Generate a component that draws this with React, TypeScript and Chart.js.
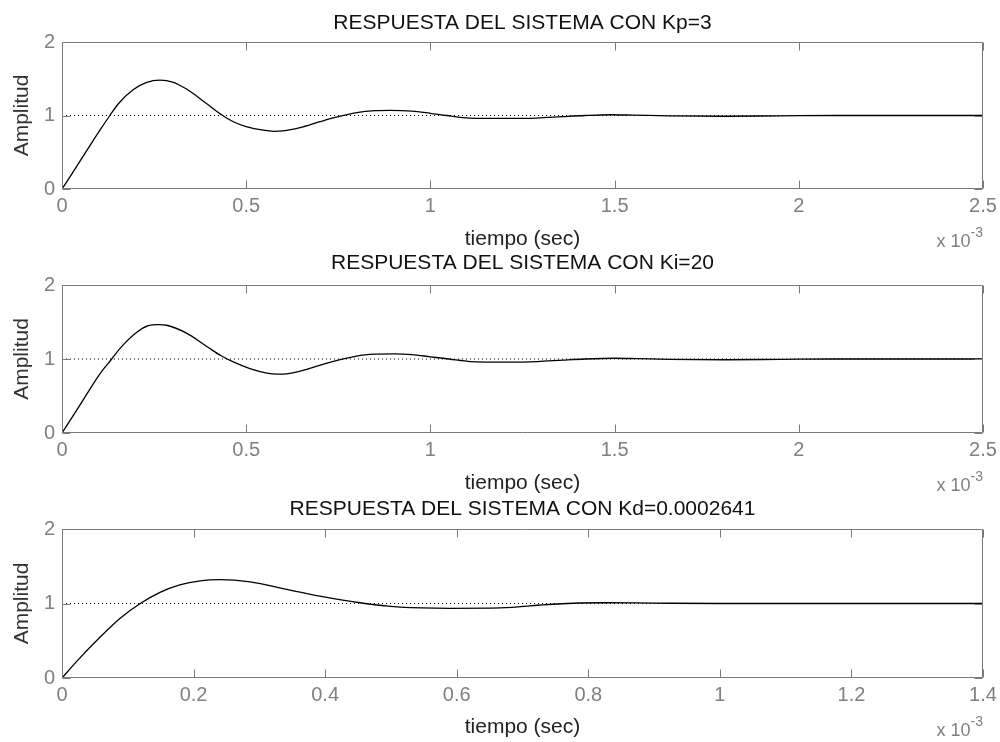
import React, { useEffect, useRef } from "react";
import { Chart, registerables } from "chart.js";

Chart.register(...registerables);

// ---------- data (time in units of 1e-3 s) ----------
const tKp = [0, 0.026, 0.058, 0.103, 0.13, 0.153, 0.193, 0.23, 0.266, 0.3, 0.338, 0.393, 0.433, 0.465, 0.5, 0.546, 0.575, 0.6, 0.646, 0.7, 0.755, 0.8, 0.85, 0.89, 0.95, 1.0, 1.044, 1.107, 1.2, 1.288, 1.36, 1.42, 1.49, 1.55, 1.65, 1.8, 1.95, 2.1, 2.3, 2.5];
const yKp = [0, 0.2, 0.45, 0.8, 1.0, 1.16, 1.35, 1.45, 1.48, 1.455, 1.36, 1.16, 1.01, 0.915, 0.85, 0.8, 0.785, 0.79, 0.835, 0.915, 0.99, 1.04, 1.066, 1.07, 1.06, 1.03, 1.0, 0.965, 0.96, 0.965, 0.985, 1.0, 1.01, 1.005, 0.995, 0.99, 0.995, 1.0, 1.0, 1.0];

const tKi = [0, 0.049, 0.103, 0.135, 0.157, 0.203, 0.234, 0.26, 0.284, 0.338, 0.393, 0.433, 0.465, 0.51, 0.556, 0.583, 0.61, 0.664, 0.71, 0.755, 0.8, 0.85, 0.9, 0.95, 1.0, 1.05, 1.11, 1.2, 1.29, 1.36, 1.42, 1.5, 1.56, 1.65, 1.8, 1.95, 2.1, 2.3, 2.5];
const yKi = [0, 0.38, 0.8, 1.0, 1.14, 1.36, 1.45, 1.465, 1.456, 1.35, 1.17, 1.04, 0.96, 0.87, 0.81, 0.795, 0.8, 0.86, 0.93, 0.99, 1.04, 1.065, 1.07, 1.06, 1.03, 1.0, 0.965, 0.958, 0.965, 0.985, 1.0, 1.01, 1.005, 0.995, 0.99, 0.995, 1.0, 1.0, 1.0];

const tKd = [0, 0.022, 0.058, 0.088, 0.119, 0.149, 0.179, 0.21, 0.24, 0.286, 0.336, 0.392, 0.453, 0.49, 0.514, 0.59, 0.666, 0.746, 0.822, 0.9, 1.0, 1.1, 1.2, 1.3, 1.4];
const yKd = [0, 0.22, 0.55, 0.8, 1.0, 1.15, 1.25, 1.305, 1.32, 1.29, 1.2, 1.1, 1.01, 0.97, 0.95, 0.935, 0.94, 0.99, 1.01, 1.005, 1.0, 1.0, 1.0, 1.0, 1.0];

const titles = [
  "RESPUESTA DEL SISTEMA CON Kp=3",
  "RESPUESTA DEL SISTEMA CON Ki=20",
  "RESPUESTA DEL SISTEMA CON Kd=0.0002641",
];
const xMaxes = [2.5, 2.5, 1.4];
const xSteps = [0.5, 0.5, 0.2];
const yMin = 0;
const yMax = 2;
const yStep = 1;
const referenceLevel = 1;
const xLabel = "tiempo (sec)";
const yLabel = "Amplitud";
const expBase = "x 10";
const expPow = "-3";

const series = [
  { t: tKp, y: yKp },
  { t: tKi, y: yKi },
  { t: tKd, y: yKd },
];

// ---------- layout / style ----------
const FONT = "'Liberation Sans', Arial, sans-serif";
const TICK_COLOR = "#808080";
const FRAME_COLOR = "#7a7a7a";
const TITLE_F = 21;
const TICK_F = 20;
const LABEL_F = 21;

const panels = [
  { ct: 0, ch: 250, titleY: 23, top: 42, bottom: 189, xTitleY: 239 },
  { ct: 250, ch: 245, titleY: 263.5, top: 285, bottom: 433, xTitleY: 483 },
  { ct: 495, ch: 247, titleY: 509.5, top: 529, bottom: 678, xTitleY: 727 },
];
const LEFT = 62;
const RIGHT_PAD = 17;

const framePlugin = {
  id: "matFrame",
  afterDatasetsDraw(chart: any) {
    const { ctx, chartArea: a, scales } = chart;
    ctx.save();
    ctx.strokeStyle = FRAME_COLOR;
    ctx.lineWidth = 1;
    const L = Math.round(a.left) + 0.5;
    const R = Math.round(a.right) - 0.5;
    const T = Math.round(a.top) + 0.5;
    const B = Math.round(a.bottom) - 0.5;
    ctx.beginPath();
    ctx.rect(L, T, R - L, B - T);
    const TL = 8;
    scales.x.ticks.forEach((tk: any) => {
      const px = Math.round(scales.x.getPixelForValue(tk.value)) + 0.5;
      ctx.moveTo(px, B);
      ctx.lineTo(px, B - TL);
      ctx.moveTo(px, T);
      ctx.lineTo(px, T + TL);
    });
    scales.y.ticks.forEach((tk: any) => {
      const py = Math.round(scales.y.getPixelForValue(tk.value)) + 0.5;
      ctx.moveTo(L, py);
      ctx.lineTo(L + TL, py);
      ctx.moveTo(R, py);
      ctx.lineTo(R - TL, py);
    });
    ctx.stroke();

    ctx.fillStyle = TICK_COLOR;
    ctx.textAlign = "right";
    ctx.textBaseline = "alphabetic";
    ctx.font = `14px ${FONT}`;
    const w = ctx.measureText(expPow).width;
    ctx.fillText(expPow, a.right, a.bottom + 48);
    ctx.font = `18px ${FONT}`;
    ctx.fillText(expBase, a.right - w, a.bottom + 58);
    ctx.restore();
  },
};

function SubPlot({ index }: { index: number }) {
  const ref = useRef<HTMLCanvasElement | null>(null);
  const p = panels[index];

  useEffect(() => {
    if (!ref.current) return;
    const s = series[index];
    const xMax = xMaxes[index];
    const tY = p.titleY - p.ct;
    const aTop = p.top - p.ct;
    const aBot = p.bottom - p.ct;
    const xtY = p.xTitleY - p.ct;

    const curve = s.t.map((t, i) => ({ x: t, y: s.y[i] }));
    const refLine = [
      { x: 0, y: referenceLevel },
      { x: xMax, y: referenceLevel },
    ];

    const chart = new Chart(ref.current, {
      type: "line",
      data: {
        datasets: [
          {
            data: refLine,
            borderColor: "#000",
            borderWidth: 1,
            borderDash: [1, 3],
            pointRadius: 0,
            tension: 0,
            fill: false,
          },
          {
            data: curve,
            borderColor: "#000",
            borderWidth: 1.3,
            pointRadius: 0,
            cubicInterpolationMode: "monotone",
            fill: false,
          },
        ],
      },
      options: {
        responsive: false,
        animation: false,
        events: [],
        layout: { padding: { left: 0, right: RIGHT_PAD, top: 0, bottom: 0 } },
        plugins: {
          legend: { display: false },
          tooltip: { enabled: false },
          title: {
            display: true,
            fullSize: false,
            text: titles[index],
            color: "#111",
            font: { family: FONT, size: TITLE_F, weight: "normal", lineHeight: 1 },
            padding: { top: tY - TITLE_F / 2, bottom: aTop - tY - TITLE_F / 2 },
          },
        },
        scales: {
          x: {
            type: "linear",
            min: 0,
            max: xMax,
            grid: { display: false, drawTicks: false },
            border: { display: false },
            ticks: {
              stepSize: xSteps[index],
              color: TICK_COLOR,
              padding: 7,
              maxRotation: 0,
              autoSkip: false,
              font: { family: FONT, size: TICK_F, lineHeight: 1 },
              callback: (v: any) => String(Number(Number(v).toFixed(2))),
            },
            title: {
              display: true,
              text: xLabel,
              color: "#222",
              font: { family: FONT, size: LABEL_F, lineHeight: 1 },
              padding: { top: 0, bottom: p.ch - xtY - LABEL_F / 2 },
            },
            afterFit: (scale: any) => {
              scale.height = p.ch - aBot;
              scale.paddingLeft = 0;
              scale.paddingRight = 0;
            },
          },
          y: {
            type: "linear",
            min: yMin,
            max: yMax,
            grid: { display: false, drawTicks: false },
            border: { display: false },
            ticks: {
              stepSize: yStep,
              color: TICK_COLOR,
              padding: 7,
              font: { family: FONT, size: TICK_F, lineHeight: 1 },
            },
            title: {
              display: true,
              text: yLabel,
              color: "#333",
              font: { family: FONT, size: LABEL_F, lineHeight: 1 },
              padding: { top: 22 - LABEL_F / 2, bottom: 0 },
            },
            afterFit: (scale: any) => {
              scale.width = LEFT;
              scale.paddingTop = 0;
              scale.paddingBottom = 0;
            },
          },
        },
      },
      plugins: [framePlugin],
    } as any);

    return () => chart.destroy();
  }, [index]);

  return (
    <canvas
      ref={ref}
      width={1000}
      height={p.ch}
      style={{ position: "absolute", left: 0, top: p.ct, width: 1000, height: p.ch }}
    />
  );
}

export default function App() {
  return (
    <div
      style={{
        position: "absolute",
        left: 0,
        top: 0,
        width: 1000,
        height: 742,
        background: "#fff",
        overflow: "hidden",
      }}
    >
      <SubPlot index={0} />
      <SubPlot index={1} />
      <SubPlot index={2} />
    </div>
  );
}
